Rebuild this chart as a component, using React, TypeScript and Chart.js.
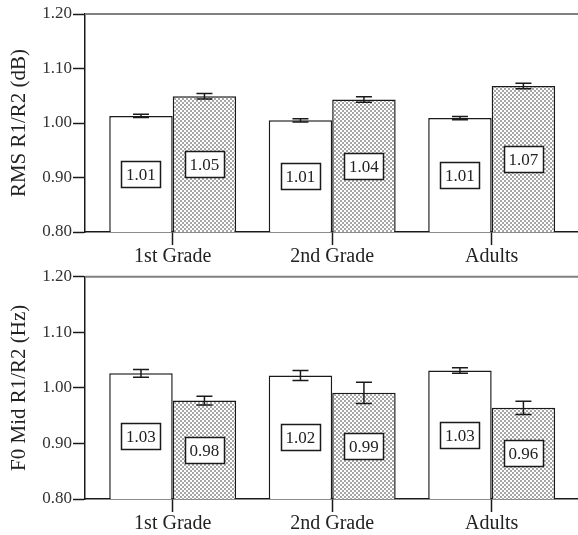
import React, { useEffect, useRef } from 'react';
import { Chart, registerables } from 'chart.js';

Chart.register(...registerables);

const categories = ['1st Grade', '2nd Grade', 'Adults'];

// Top panel: RMS R1/R2 (dB)
const rmsTitle = 'RMS R1/R2 (dB)';
const rmsWhite = [1.013, 1.005, 1.009];
const rmsWhiteErr = [0.003, 0.003, 0.003];
const rmsWhiteLabels = ['1.01', '1.01', '1.01'];
const rmsDotted = [1.049, 1.043, 1.068];
const rmsDottedErr = [0.005, 0.005, 0.005];
const rmsDottedLabels = ['1.05', '1.04', '1.07'];

// Bottom panel: F0 Mid R1/R2 (Hz)
const f0Title = 'F0 Mid R1/R2 (Hz)';
const f0White = [1.026, 1.022, 1.031];
const f0WhiteErr = [0.007, 0.009, 0.005];
const f0WhiteLabels = ['1.03', '1.02', '1.03'];
const f0Dotted = [0.977, 0.991, 0.964];
const f0DottedErr = [0.008, 0.019, 0.012];
const f0DottedLabels = ['0.98', '0.99', '0.96'];

const yMin = 0.8;
const yMax = 1.2;
const yStep = 0.1;

const FONT = "'Liberation Serif', 'Times New Roman', serif";
const INK = '#1a1a1a';

function makePattern(): CanvasPattern | string {
  const c = document.createElement('canvas');
  c.width = 4;
  c.height = 4;
  const g = c.getContext('2d');
  if (!g) return '#d0d0d0';
  g.fillStyle = '#ffffff';
  g.fillRect(0, 0, 4, 4);
  g.fillStyle = '#a6a6a6';
  g.fillRect(0, 0, 2, 2);
  g.fillRect(2, 2, 2, 2);
  const p = g.createPattern(c, 'repeat');
  return p || '#d0d0d0';
}

const decorPlugin = {
  id: 'decor',
  beforeDatasetsDraw(chart: any) {
    const { ctx, chartArea } = chart;
    ctx.save();
    ctx.strokeStyle = '#808080';
    ctx.lineWidth = 2;
    ctx.beginPath();
    ctx.moveTo(chartArea.left, chartArea.top);
    ctx.lineTo(chartArea.right + 1, chartArea.top);
    ctx.stroke();
    ctx.restore();
  },
  afterDatasetsDraw(chart: any) {
    const { ctx } = chart;
    const yScale = chart.scales.y;
    const basePx = yScale.getPixelForValue(yMin);
    chart.data.datasets.forEach((ds: any, i: number) => {
      const meta = chart.getDatasetMeta(i);
      meta.data.forEach((bar: any, j: number) => {
        const v = ds.data[j].y;
        const e = ds.errors[j];
        const x = bar.x;
        const yt = yScale.getPixelForValue(v + e);
        const yb = yScale.getPixelForValue(v - e);
        ctx.save();
        ctx.strokeStyle = INK;
        ctx.lineWidth = 1.5;
        ctx.beginPath();
        ctx.moveTo(x, yt);
        ctx.lineTo(x, yb);
        ctx.moveTo(x - 8, yt);
        ctx.lineTo(x + 8, yt);
        ctx.moveTo(x - 8, yb);
        ctx.lineTo(x + 8, yb);
        ctx.stroke();

        // value label box, centred on the bar's middle
        const label = String(ds.valueLabels[j]);
        const top = yScale.getPixelForValue(v);
        const cy = (top + basePx) / 2;
        ctx.font = `17px ${FONT}`;
        const tw = ctx.measureText(label).width;
        const bw = Math.round(tw + 9);
        const bh = 26;
        const bx = Math.round(x - bw / 2) + 0.5;
        const by = Math.round(cy - bh / 2) + 0.5;
        ctx.fillStyle = '#ffffff';
        ctx.fillRect(bx, by, bw, bh);
        ctx.lineWidth = 1.5;
        ctx.strokeStyle = INK;
        ctx.strokeRect(bx, by, bw, bh);
        ctx.fillStyle = '#222';
        ctx.textAlign = 'center';
        ctx.textBaseline = 'middle';
        ctx.fillText(label, x, by + bh / 2 + 1);
        ctx.restore();
      });
    });
  },
};

function makeConfig(
  title: string,
  a: number[], aErr: number[], aLab: string[],
  b: number[], bErr: number[], bLab: string[],
  padTop: number,
  pattern: CanvasPattern | string
): any {
  return {
    type: 'bar',
    data: {
      datasets: [
        {
          data: a.map((v, i) => ({ x: i, y: v })),
          errors: aErr,
          valueLabels: aLab,
          backgroundColor: '#ffffff',
          borderColor: INK,
          borderWidth: 1.5,
          categoryPercentage: 0.796,
          barPercentage: 1.0,
        },
        {
          data: b.map((v, i) => ({ x: i, y: v })),
          errors: bErr,
          valueLabels: bLab,
          backgroundColor: pattern,
          borderColor: INK,
          borderWidth: 1.5,
          categoryPercentage: 0.796,
          barPercentage: 1.0,
        },
      ],
    },
    options: {
      responsive: false,
      animation: false,
      devicePixelRatio: 1,
      layout: { padding: { top: padTop, right: 1, left: 0, bottom: 0 } },
      plugins: {
        legend: { display: false },
        tooltip: { enabled: false },
      },
      scales: {
        x: {
          type: 'linear',
          min: -0.55,
          max: 2.535,
          offset: false,
          afterFit(scale: any) {
            scale.height = 36;
          },
          grid: {
            display: true,
            offset: false,
            drawOnChartArea: false,
            drawTicks: true,
            tickLength: 13,
            tickColor: INK,
            tickWidth: 1.5,
          },
          border: { display: true, color: INK, width: 1.5 },
          ticks: {
            stepSize: 1,
            includeBounds: false,
            autoSkip: false,
            maxRotation: 0,
            padding: 0,
            color: '#222',
            font: { family: FONT, size: 20 },
            callback: (v: number) =>
              Number.isInteger(v) && categories[v] !== undefined ? categories[v] : '',
          },
        },
        y: {
          min: yMin,
          max: yMax,
          afterFit(scale: any) {
            scale.width = 85;
          },
          grid: {
            display: true,
            drawOnChartArea: false,
            drawTicks: true,
            tickLength: 12,
            tickColor: INK,
            tickWidth: 1.5,
          },
          border: { display: true, color: INK, width: 1.5 },
          ticks: {
            stepSize: yStep,
            padding: 1,
            color: '#333',
            font: { family: FONT, size: 17, lineHeight: 0.9 },
            callback: (v: number) => Number(v).toFixed(2),
          },
          title: {
            display: true,
            text: title,
            color: '#222',
            padding: { top: 7, bottom: 0 },
            font: { family: FONT, size: 21 },
          },
        },
      },
    },
    plugins: [decorPlugin],
  };
}

function Panel(props: {
  height: number;
  title: string;
  a: number[]; aErr: number[]; aLab: string[];
  b: number[]; bErr: number[]; bLab: string[];
  padTop: number;
}) {
  const ref = useRef<HTMLCanvasElement | null>(null);
  useEffect(() => {
    if (!ref.current) return;
    const chart = new Chart(
      ref.current,
      makeConfig(props.title, props.a, props.aErr, props.aLab, props.b, props.bErr, props.bLab, props.padTop, makePattern())
    );
    return () => chart.destroy();
  }, []);
  return (
    <canvas
      ref={ref}
      width={578}
      height={props.height}
      style={{ display: 'block', width: 578, height: props.height }}
    />
  );
}

export default function App() {
  return (
    <div style={{ position: 'absolute', left: 0, top: 0, width: 578, height: 535, background: '#fff' }}>
      <Panel
        height={268}
        title={rmsTitle}
        a={rmsWhite} aErr={rmsWhiteErr} aLab={rmsWhiteLabels}
        b={rmsDotted} bErr={rmsDottedErr} bLab={rmsDottedLabels}
        padTop={14}
      />
      <Panel
        height={267}
        title={f0Title}
        a={f0White} aErr={f0WhiteErr} aLab={f0WhiteLabels}
        b={f0Dotted} bErr={f0DottedErr} bLab={f0DottedLabels}
        padTop={8}
      />
    </div>
  );
}
